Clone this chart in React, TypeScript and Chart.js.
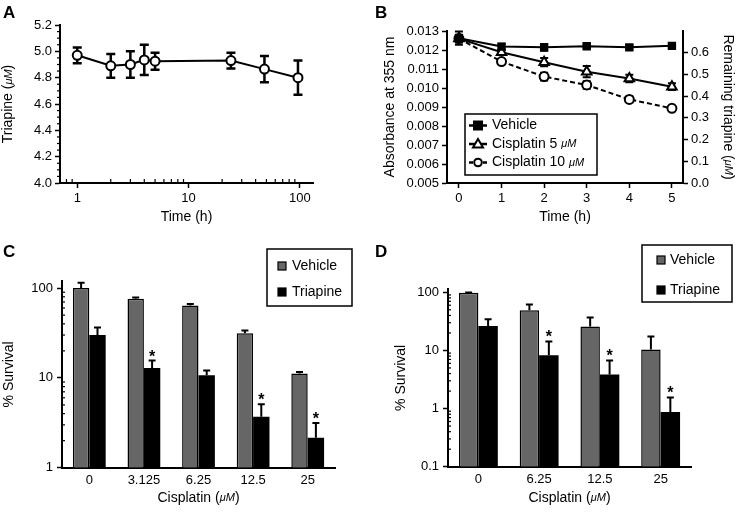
import React, { useEffect, useRef } from 'react';
import { Chart, registerables } from 'chart.js';

Chart.register(...registerables);

const FONT = "'Liberation Sans', Arial, Helvetica, sans-serif";

// ---------- Panel A ----------
const timeA = [1, 2, 3, 4, 5, 24, 48, 96];
const triapineA = [4.97, 4.89, 4.9, 4.935, 4.925, 4.93, 4.865, 4.8];
const triapineAErr = [0.06, 0.09, 0.1, 0.115, 0.065, 0.06, 0.1, 0.13];
const aXMajor = [1, 10, 100];
const aXMinor = [0.8, 0.9, 2, 3, 4, 5, 6, 7, 8, 9, 20, 30, 40, 50, 60, 70, 80, 90];
const aYMajor = [4.0, 4.2, 4.4, 4.6, 4.8, 5.0, 5.2];
const aYMinor = [4.05, 4.1, 4.15, 4.25, 4.3, 4.35, 4.45, 4.5, 4.55, 4.65, 4.7, 4.75, 4.85, 4.9, 4.95, 5.05, 5.1, 5.15];

// ---------- Panel B ----------
const timeB = [0, 1, 2, 3, 4, 5];
const vehicleB = [0.01262, 0.01218, 0.01214, 0.0122, 0.01214, 0.01222];
const vehicleBErr = [0.00035, 0.00015, 0.00018, 0.0001, 0.00012, 0.00015];
const cis5B = [0.0126, 0.01188, 0.01136, 0.01086, 0.0105, 0.01007];
const cis5BErr = [0.0002, 0.00012, 0.00022, 0.0003, 0.0002, 0.00018];
const cis10B = [0.0126, 0.01139, 0.0106, 0.01016, 0.0094, 0.00893];
const cis10BErr = [0.00015, 0.0001, 0.0002, 0.0002, 0.00015, 0.00012];
const bYTicks = [0.005, 0.006, 0.007, 0.008, 0.009, 0.01, 0.011, 0.012, 0.013];
const bY2Ticks = [0, 0.1, 0.2, 0.3, 0.4, 0.5, 0.6];

// ---------- Panel C ----------
const cisplatinC = ['0', '3.125', '6.25', '12.5', '25'];
const vehicleC = [100, 76, 64, 31.5, 11.2];
const vehicleCErr = [15, 2.5, 2.5, 2.2, 0.4];
const triapineC = [30, 12.9, 10.7, 3.7, 2.15];
const triapineCErr = [6.5, 2.7, 1.4, 1.4, 1.0];
const starsC = [false, true, false, true, true];
const cYMajor = [1, 10, 100];
const cYMinor = [2, 3, 4, 5, 6, 7, 8, 9, 20, 30, 40, 50, 60, 70, 80, 90];

// ---------- Panel D ----------
const cisplatinD = ['0', '6.25', '12.5', '25'];
const vehicleD = [98, 49, 25.7, 10.4];
const vehicleDErr = [1.5, 13, 11, 7];
const triapineD = [26.4, 8.3, 3.84, 0.875];
const triapineDErr = [8, 6, 2.9, 0.68];
const starsD = [false, true, true, true];
const dYMajor = [0.1, 1, 10, 100];
const dYMinor = [0.2, 0.3, 0.4, 0.5, 0.6, 0.7, 0.8, 0.9, 2, 3, 4, 5, 6, 7, 8, 9, 20, 30, 40, 50, 60, 70, 80, 90];

const GRAY = '#666666';

// ---------- text helper: "μM" drawn smaller and italic ----------
function richParts(text: string, size: number) {
  const idx = text.indexOf('μM');
  if (idx < 0) return [{ t: text, f: `${size}px ${FONT}` }];
  return [
    { t: text.slice(0, idx), f: `${size}px ${FONT}` },
    { t: 'μM', f: `italic ${size - 3}px ${FONT}` },
    { t: text.slice(idx + 2), f: `${size}px ${FONT}` },
  ];
}

function drawRich(ctx: any, text: string, x: number, y: number, size: number, align: 'left' | 'center') {
  const parts = richParts(text, size);
  let total = 0;
  const widths = parts.map((p) => {
    ctx.font = p.f;
    const w = ctx.measureText(p.t).width;
    total += w;
    return w;
  });
  let cx = align === 'center' ? x - total / 2 : x;
  ctx.textAlign = 'left';
  ctx.textBaseline = 'middle';
  parts.forEach((p, i) => {
    ctx.font = p.f;
    ctx.fillText(p.t, cx, y);
    cx += widths[i];
  });
}

// ---------- plugins ----------
function drawErrors(chart: any, opts: any) {
  const ctx = chart.ctx;
  ctx.save();
  ctx.strokeStyle = '#000';
  ctx.lineWidth = opts.lineWidth || 2;
  const cap = opts.cap || 4;
  chart.data.datasets.forEach((ds: any, i: number) => {
    const errs = ds.errors;
    if (!errs) return;
    const meta = chart.getDatasetMeta(i);
    const ys = chart.scales[meta.yAxisID];
    meta.data.forEach((el: any, j: number) => {
      const raw = ds.data[j];
      const v = typeof raw === 'number' ? raw : raw.y;
      const e = errs[j];
      if (!e) return;
      const x = el.x;
      const yTop = ys.getPixelForValue(v + e);
      const yBot = opts.mode === 'both' ? ys.getPixelForValue(v - e) : el.y;
      ctx.beginPath();
      ctx.moveTo(x, yTop);
      ctx.lineTo(x, yBot);
      ctx.moveTo(x - cap, yTop);
      ctx.lineTo(x + cap, yTop);
      if (opts.mode === 'both') {
        ctx.moveTo(x - cap, yBot);
        ctx.lineTo(x + cap, yBot);
      }
      ctx.stroke();
      if (ds.stars && ds.stars[j]) {
        ctx.fillStyle = '#000';
        ctx.font = `bold 16px ${FONT}`;
        ctx.textAlign = 'center';
        ctx.textBaseline = 'alphabetic';
        ctx.fillText('*', x, yTop + 1);
      }
    });
  });
  ctx.restore();
}

const errorBarsPlugin = {
  id: 'errorBars',
  beforeDatasetsDraw(chart: any, _a: any, opts: any) {
    if (opts.mode === 'both') drawErrors(chart, opts);
  },
  afterDatasetsDraw(chart: any, _a: any, opts: any) {
    if (opts.mode === 'up') drawErrors(chart, opts);
  },
};

const minorTicksPlugin = {
  id: 'minorTicks',
  afterDraw(chart: any, _a: any, opts: any) {
    const ctx = chart.ctx;
    const area = chart.chartArea;
    ctx.save();
    ctx.strokeStyle = '#000';
    ctx.lineWidth = 1.2;
    (opts.axes || []).forEach((ax: any) => {
      const s = chart.scales[ax.id];
      ax.values.forEach((v: number) => {
        if (v < s.min || v > s.max) return;
        const p = s.getPixelForValue(v);
        ctx.beginPath();
        if (s.isHorizontal()) {
          const y0 = area.bottom;
          ctx.moveTo(p, y0);
          ctx.lineTo(p, ax.dir === 'in' ? y0 - ax.len : y0 + ax.len);
        } else {
          const x0 = area.left;
          ctx.moveTo(x0, p);
          ctx.lineTo(ax.dir === 'in' ? x0 + ax.len : x0 - ax.len, p);
        }
        ctx.stroke();
      });
    });
    ctx.restore();
  },
};

// axis titles drawn with an italic "μM"
const richTitlesPlugin = {
  id: 'richTitles',
  afterDraw(chart: any, _a: any, opts: any) {
    const ctx = chart.ctx;
    ctx.save();
    ctx.fillStyle = '#000';
    (opts.titles || []).forEach((t: any) => {
      const s = chart.scales[t.id];
      ctx.save();
      if (s.isHorizontal()) {
        drawRich(ctx, t.text, (s.left + s.right) / 2, s.bottom - t.offset, 14, 'center');
      } else if (s.position === 'left') {
        ctx.translate(s.left + t.offset, (s.top + s.bottom) / 2);
        ctx.rotate(-Math.PI / 2);
        drawRich(ctx, t.text, 0, 0, 14, 'center');
      } else {
        ctx.translate(s.right - t.offset, (s.top + s.bottom) / 2);
        ctx.rotate(Math.PI / 2);
        drawRich(ctx, t.text, 0, 0, 14, 'center');
      }
      ctx.restore();
    });
    ctx.restore();
  },
};

const lineLegendPlugin = {
  id: 'lineLegend',
  afterDraw(chart: any, _a: any, o: any) {
    const ctx = chart.ctx;
    ctx.save();
    ctx.strokeStyle = '#000';
    ctx.lineWidth = 1.5;
    ctx.strokeRect(o.x, o.y, o.w, o.h);
    chart.data.datasets.forEach((ds: any, i: number) => {
      const cy = o.y + o.rows[i];
      ctx.lineWidth = 2.5;
      ctx.setLineDash(ds.borderDash && ds.borderDash.length ? [4, 3] : []);
      ctx.beginPath();
      ctx.moveTo(o.x + o.lx1, cy);
      ctx.lineTo(o.x + o.lx2, cy);
      ctx.stroke();
      ctx.setLineDash([]);
      ctx.lineWidth = 2;
      const mx = o.x + (o.lx1 + o.lx2) / 2;
      ctx.fillStyle = ds.pointBackgroundColor;
      ctx.beginPath();
      if (ds.pointStyle === 'rect') {
        ctx.rect(mx - 4, cy - 4, 8, 8);
      } else if (ds.pointStyle === 'triangle') {
        ctx.moveTo(mx, cy - 5);
        ctx.lineTo(mx + 5, cy + 3.5);
        ctx.lineTo(mx - 5, cy + 3.5);
        ctx.closePath();
      } else {
        ctx.arc(mx, cy, 3.8, 0, Math.PI * 2);
      }
      ctx.fill();
      ctx.stroke();
      ctx.fillStyle = '#000';
      drawRich(ctx, ds.label, o.x + o.tx, cy, 14, 'left');
    });
    ctx.restore();
  },
};

const barLegendPlugin = {
  id: 'barLegend',
  afterDraw(chart: any, _a: any, o: any) {
    const ctx = chart.ctx;
    ctx.save();
    ctx.strokeStyle = '#000';
    ctx.lineWidth = 1.5;
    ctx.strokeRect(o.x, o.y, o.w, o.h);
    chart.data.datasets.forEach((ds: any, i: number) => {
      const cy = o.y + o.rows[i];
      ctx.fillStyle = ds.backgroundColor;
      ctx.fillRect(o.x + o.sx, cy - 4, 8, 8);
      ctx.lineWidth = 1.2;
      ctx.strokeRect(o.x + o.sx, cy - 4, 8, 8);
      ctx.fillStyle = '#000';
      drawRich(ctx, ds.label, o.x + o.tx, cy, 14, 'left');
    });
    ctx.restore();
  },
};

// ---------- helpers ----------
const tickFont = { family: FONT, size: 13 };

function axisBase() {
  return {
    border: { display: true, color: '#000', width: 2 },
    grid: {
      display: true,
      drawOnChartArea: false,
      drawTicks: true,
      tickLength: 5,
      tickColor: '#000',
      tickWidth: 1.5,
      color: '#000',
    },
    ticks: { color: '#000', font: tickFont, padding: 3, autoSkip: false, maxRotation: 0 },
    title: { display: false },
  };
}

function setTicks(values: number[]) {
  return (s: any) => {
    s.ticks = values.map((v) => ({ value: v }));
  };
}

function ChartBox(props: { left: number; top: number; width: number; height: number; make: () => any }) {
  const ref = useRef<HTMLCanvasElement>(null);
  useEffect(() => {
    const chart = new Chart(ref.current as HTMLCanvasElement, props.make());
    return () => chart.destroy();
  }, []);
  return (
    <canvas
      ref={ref}
      width={props.width}
      height={props.height}
      style={{ position: 'absolute', left: props.left, top: props.top, width: props.width, height: props.height }}
    />
  );
}

const commonOptions = {
  responsive: false,
  animation: false as const,
  events: [] as any[],
};

function makeA() {
  const b = axisBase();
  return {
    type: 'line',
    data: {
      datasets: [
        {
          label: 'Triapine',
          data: timeA.map((t, i) => ({ x: t, y: triapineA[i] })),
          errors: triapineAErr,
          borderColor: '#000',
          borderWidth: 2,
          pointStyle: 'circle',
          pointRadius: 4.5,
          pointBorderWidth: 2,
          pointBackgroundColor: '#fff',
          pointBorderColor: '#000',
          tension: 0,
        },
      ],
    },
    options: {
      ...commonOptions,
      layout: { padding: { left: 0, top: 25, right: 57, bottom: 0 } },
      plugins: {
        legend: { display: false },
        tooltip: { enabled: false },
        errorBars: { mode: 'both', cap: 4.5, lineWidth: 2.5 },
        minorTicks: {
          axes: [
            { id: 'x', values: aXMinor, len: 4, dir: 'in' },
            { id: 'y', values: aYMinor, len: 3, dir: 'out' },
          ],
        },
        richTitles: {
          titles: [
            { id: 'x', text: 'Time (h)', offset: 38.5 },
            { id: 'y', text: 'Triapine (μM)', offset: 8.5 },
          ],
        },
      },
      scales: {
        x: {
          ...b,
          type: 'logarithmic',
          min: 0.7,
          max: 131,
          afterBuildTicks: setTicks(aXMajor),
          afterFit: (s: any) => { s.height = 73; },
          ticks: { ...b.ticks, callback: (v: any) => String(v) },
        },
        y: {
          ...b,
          type: 'linear',
          min: 4.0,
          max: 5.2,
          afterBuildTicks: setTicks(aYMajor),
          afterFit: (s: any) => { s.width = 60; },
          ticks: { ...b.ticks, callback: (v: any) => Number(v).toFixed(1) },
        },
      },
    },
    plugins: [errorBarsPlugin, minorTicksPlugin, richTitlesPlugin],
  };
}

function makeB() {
  const b = axisBase();
  const mk = (label: string, vals: number[], errs: number[], style: string, fill: string, dash: number[], r: number) => ({
    label,
    data: timeB.map((t, i) => ({ x: t, y: vals[i] })),
    errors: errs,
    borderColor: '#000',
    borderWidth: 2,
    borderDash: dash,
    pointStyle: style,
    pointRadius: r,
    pointBorderWidth: 2,
    pointBackgroundColor: fill,
    pointBorderColor: '#000',
    tension: 0,
    yAxisID: 'y',
  });
  return {
    type: 'line',
    data: {
      datasets: [
        mk('Vehicle', vehicleB, vehicleBErr, 'rect', '#000', [], 4.5),
        mk('Cisplatin 5 μM', cis5B, cis5BErr, 'triangle', '#fff', [], 5.5),
        mk('Cisplatin 10 μM', cis10B, cis10BErr, 'circle', '#fff', [5, 3], 4.5),
      ],
    },
    options: {
      ...commonOptions,
      layout: { padding: { left: 0, top: 31, right: 0, bottom: 0 } },
      plugins: {
        legend: { display: false },
        tooltip: { enabled: false },
        errorBars: { mode: 'both', cap: 4, lineWidth: 2 },
        lineLegend: { x: 95, y: 114, w: 132, h: 61, rows: [11.5, 30, 48.5], lx1: 4, lx2: 22, tx: 27 },
        richTitles: {
          titles: [
            { id: 'x', text: 'Time (h)', offset: 38.5 },
            { id: 'y', text: 'Absorbance at 355 nm', offset: 20 },
            { id: 'y2', text: 'Remaining triapine (μM)', offset: 11 },
          ],
        },
      },
      scales: {
        x: {
          ...b,
          type: 'linear',
          min: -0.28,
          max: 5.26,
          afterBuildTicks: setTicks(timeB),
          afterFit: (s: any) => { s.height = 73; },
          ticks: { ...b.ticks, callback: (v: any) => String(v) },
        },
        y: {
          ...b,
          type: 'linear',
          position: 'left',
          min: 0.005,
          max: 0.013,
          afterBuildTicks: setTicks(bYTicks),
          afterFit: (s: any) => { s.width = 77; },
          ticks: { ...b.ticks, callback: (v: any) => Number(v).toFixed(3) },
        },
        y2: {
          ...b,
          type: 'linear',
          position: 'right',
          min: 0,
          max: 0.7,
          afterBuildTicks: setTicks(bY2Ticks),
          afterFit: (s: any) => { s.width = 56; },
          ticks: { ...b.ticks, callback: (v: any) => Number(v).toFixed(1) },
        },
      },
    },
    plugins: [errorBarsPlugin, lineLegendPlugin, richTitlesPlugin],
  };
}

function makeBars(
  labels: string[],
  veh: number[],
  vehErr: number[],
  tri: number[],
  triErr: number[],
  stars: boolean[],
  yMin: number,
  yMax: number,
  yMajor: number[],
  yMinor: number[],
  geom: any,
) {
  const b = axisBase();
  return {
    type: 'bar',
    data: {
      labels,
      datasets: [
        {
          label: 'Vehicle',
          data: veh,
          errors: vehErr,
          backgroundColor: GRAY,
          borderColor: '#000',
          borderWidth: 1.5,
          categoryPercentage: geom.cat,
          barPercentage: 1.0,
        },
        {
          label: 'Triapine',
          data: tri,
          errors: triErr,
          stars,
          backgroundColor: '#000',
          borderColor: '#000',
          borderWidth: 0,
          categoryPercentage: geom.cat,
          barPercentage: 1.0,
        },
      ],
    },
    options: {
      ...commonOptions,
      layout: { padding: { left: 0, top: geom.top, right: geom.right, bottom: 0 } },
      plugins: {
        legend: { display: false },
        tooltip: { enabled: false },
        errorBars: { mode: 'up', cap: 3.5, lineWidth: 2 },
        minorTicks: { axes: [{ id: 'y', values: yMinor, len: 3, dir: 'in' }] },
        barLegend: geom.legend,
        richTitles: {
          titles: [
            { id: 'x', text: 'Cisplatin (μM)', offset: 14 },
            { id: 'y', text: '% Survival', offset: geom.yto },
          ],
        },
      },
      scales: {
        x: {
          ...b,
          type: 'category',
          grid: { ...b.grid, drawTicks: false },
          afterFit: (s: any) => { s.height = geom.xh; },
          ticks: { ...b.ticks, padding: geom.xpad },
        },
        y: {
          ...b,
          type: 'logarithmic',
          min: yMin,
          max: yMax,
          afterBuildTicks: setTicks(yMajor),
          afterFit: (s: any) => { s.width = geom.yw; },
          ticks: { ...b.ticks, padding: 4, callback: (v: any) => String(v) },
        },
      },
    },
    plugins: [errorBarsPlugin, minorTicksPlugin, barLegendPlugin, richTitlesPlugin],
  };
}

const makeC = () =>
  makeBars(cisplatinC, vehicleC, vehicleCErr, triapineC, triapineCErr, starsC, 1, 120, cYMajor, cYMinor, {
    cat: 0.6,
    top: 41,
    right: 35,
    xh: 44.3,
    xpad: 5,
    yw: 62,
    yto: 9,
    legend: { x: 267, y: 9, w: 85, h: 57, rows: [17, 43], sx: 11, tx: 25 },
  });

const makeD = () =>
  makeBars(cisplatinD, vehicleD, vehicleDErr, triapineD, triapineDErr, starsD, 0.1, 114, dYMajor, dYMinor, {
    cat: 0.64,
    top: 49,
    right: 48,
    xh: 45.3,
    xpad: 5,
    yw: 78,
    yto: 31,
    legend: { x: 272, y: 5, w: 90, h: 57, rows: [15, 45], sx: 15, tx: 28 },
  });

const letterStyle = (left: number, top: number): React.CSSProperties => ({
  position: 'absolute',
  left,
  top,
  font: `bold 17px ${FONT}`,
  color: '#000',
  lineHeight: '17px',
});

export default function App() {
  return (
    <div style={{ position: 'fixed', left: 0, top: 0, width: 739, height: 512, background: '#fff', overflow: 'hidden' }}>
      <ChartBox left={0} top={0} width={370} height={256} make={makeA} />
      <ChartBox left={370} top={0} width={369} height={256} make={makeB} />
      <ChartBox left={0} top={240} width={370} height={272} make={makeC} />
      <ChartBox left={370} top={240} width={369} height={272} make={makeD} />
      <div style={letterStyle(3, 4)}>A</div>
      <div style={letterStyle(375, 4)}>B</div>
      <div style={letterStyle(3, 243)}>C</div>
      <div style={letterStyle(375, 243)}>D</div>
    </div>
  );
}
